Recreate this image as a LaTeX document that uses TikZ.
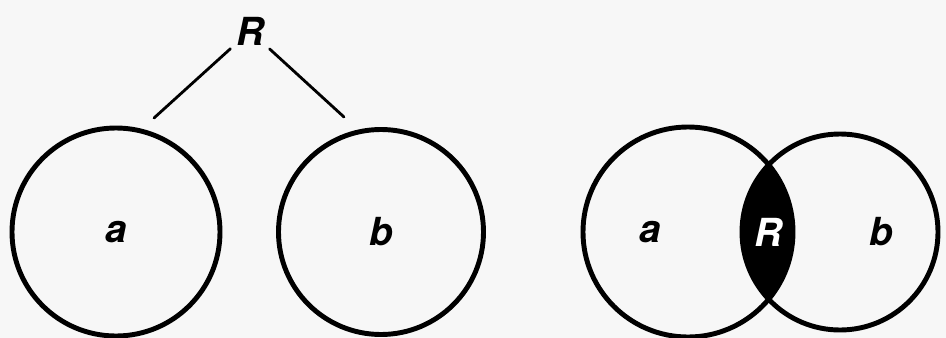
\documentclass[tikz,border=0pt]{standalone}
\usepackage{fontspec}
\setsansfont{TeX Gyre Heros}
\begin{document}
\begin{tikzpicture}[
  x=0.2mm,
  y=-0.2mm,
  line join=round,
  line cap=round,
  ring/.style={circle,draw=black,line width=2.8pt,inner sep=0pt},
  tag/.style={font=\sffamily\bfseries\itshape\fontsize{22}{26}\selectfont,inner sep=3pt},
  stem/.style={draw=black,line width=1.6pt}
]
  % Page frame, circles run off the bottom.
  \useasboundingbox (0,0) rectangle (946,338);
  \clip (0,0) rectangle (946,338);
  \fill[black!3] (0,0) rectangle (946,338);

  % Left: relation above two separate sets.
  \node[ring,tag,minimum size=41.6mm] (a1) at (116,232) {a};
  \node[ring,tag,minimum size=41mm] (b1) at (381,232) {b};
  \node[tag] (r1) at (250,31) {R};
  \coordinate (ta) at (154,118);
  \coordinate (tb) at (344,117);
  \draw[stem] (r1) -- (ta);
  \draw[stem] (r1) -- (tb);

  % Right: relation as the overlap of the sets.
  \begin{scope}
    \clip (688,232) circle[radius=21mm];
    \fill[black] (840,232) circle[radius=19.6mm];
  \end{scope}
  \node[ring,tag,minimum size=42mm] (a2) at (688,232) {};
  \node[ring,tag,minimum size=39.2mm] (b2) at (840,232) {};
  \node[tag] at (650,232) {a};
  \node[tag] at (881,232) {b};
  \node[tag,text=white] (r2) at (768,232) {R};
\end{tikzpicture}
\end{document}
